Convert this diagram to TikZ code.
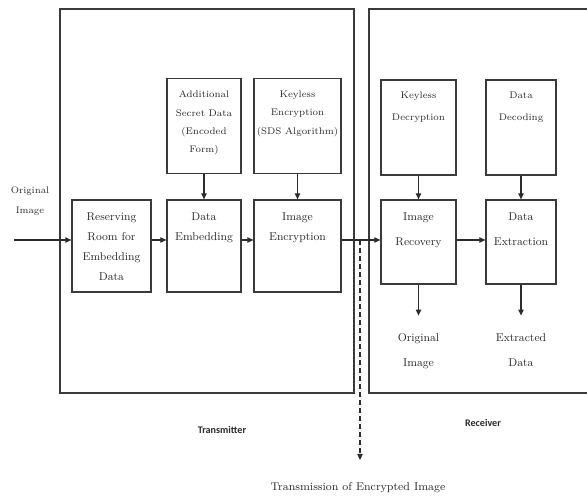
\documentclass[tikz,border=0pt]{standalone}
\usepackage{fontspec}
\newfontfamily\capfont{Carlito}
\usetikzlibrary{arrows.meta,positioning}
\definecolor{rdhInk}{HTML}{2B2B2B}
\definecolor{rdhFrame}{HTML}{3A3A3A}

\tikzset{
  blk/.style={draw=rdhFrame,line width=0.9pt,inner sep=0pt},
  lowblk/.style={blk,minimum height=69pt},
  rcvblk/.style={blk,minimum height=63pt},
  upblk/.style={blk,minimum height=71.25pt},
  txt/.style={align=center,inner sep=0pt,text=rdhInk},
  lowtxt/.style={txt,font=\fontsize{8.5}{15}\selectfont},
  rcvtxt/.style={txt,font=\fontsize{8.5}{19}\selectfont},
  uptxt/.style={txt,font=\fontsize{7.2}{13.8}\selectfont},
  uprtxt/.style={txt,font=\fontsize{7.2}{16.5}\selectfont},
  sidetxt/.style={txt,font=\capfont\bfseries\fontsize{7.6}{9}\selectfont},
  arr/.style={draw=rdhInk,line width=0.8pt,-{Triangle[length=4.5pt,width=4pt]}}
}

\begin{document}
\begin{tikzpicture}[x=0.75pt,y=0.75pt]
\useasboundingbox (0,0) rectangle (587,499);

% transmitter and receiver frames
\draw[rdhFrame,line width=1pt] (60,490) rectangle (354,106);
\draw[rdhFrame,line width=1pt] (587,490) -- (369,490) -- (369,106) -- (587,106);

% main chain
\node[lowblk,minimum width=59.25pt] (reserve) at (111.5,253) {};
\node[lowblk,minimum width=55.5pt]  (embed)   at (204,253)   {};
\node[lowblk,minimum width=65.25pt] (encrypt) at (297.5,253) {};
\node[rcvblk,minimum width=56.25pt] (recov)   at (418.5,257) {};
\node[rcvblk,minimum width=52.5pt]  (extract) at (521,257)   {};

\node[lowtxt,below=9.6pt of reserve.north] (reservetxt) {Reserving\\Room for\\Embedding\\Data};
\node[lowtxt,below=9.6pt of embed.north]   (embedtxt)   {Data\\Embedding};
\node[lowtxt,below=9.6pt of encrypt.north] (encrypttxt) {Image\\Encryption};
\node[rcvtxt,below=9.6pt of recov.north]   (recovtxt)   {Image\\Recovery};
\node[rcvtxt,below=9.6pt of extract.north] (extracttxt) {Data\\Extraction};

% side inputs
\node[upblk,minimum width=55.5pt,above=18.75pt of embed]    (secret) {};
\node[upblk,minimum width=65.25pt,above=18.75pt of encrypt] (keyenc) {};
\node[upblk,minimum width=56.25pt]  (keydec) at (418.5,371.5) {};
\node[upblk,minimum width=52.5pt]   (decode) at (521,371.5)   {};

\node[uptxt,below=9.3pt of secret.north]  (secrettxt) {Additional\\Secret Data\\(Encoded\\Form)};
\node[uptxt,below=9.3pt of keyenc.north]  (keyenctxt) {Keyless\\Encryption\\(SDS Algorithm)};
\node[uprtxt,below=9.3pt of keydec.north] (keydectxt) {Keyless\\Decryption};
\node[uprtxt,below=9.3pt of decode.north] (decodetxt) {Data\\Decoding};

\draw[arr] (secret) -- (embed);
\draw[arr] (keyenc) -- (encrypt);
\draw[arr] (keydec) -- (recov);
\draw[arr] (decode) -- (extract);

% flow
\coordinate (src) at (14,259);
\node[txt,font=\fontsize{7.1}{15.5}\selectfont] (srctxt) at (30,298) {Original\\Image};
\draw[arr] (src) -- (src -| reserve.west);
\draw[arr] (reserve.east |- src) -- (embed.west |- src);
\draw[arr] (embed.east |- src) -- (encrypt.west |- src);
\draw[arr] (encrypt.east |- src) -- (recov.west |- src);
\draw[arr] (recov.east |- src) -- (extract.west |- src);

% channel
\coordinate (tx) at (360,259);
\coordinate (txend) at (360,39);
\draw[arr,dashed,dash pattern=on 4pt off 2pt] (tx) -- (txend);
\node[txt,font=\fontsize{8.4}{10}\selectfont] (txtxt) at (358,11) {Transmission of Encrypted Image};

% outputs
\coordinate[below=23.25pt of recov.south]   (recovout);
\coordinate[below=23.25pt of extract.south] (extractout);
\draw[arr] (recov) -- (recovout);
\draw[arr] (extract) -- (extractout);
\node[rcvtxt,below=13pt of recovout]   (origout) {Original\\Image};
\node[rcvtxt,below=13pt of extractout] (dataout) {Extracted\\Data};

\node[sidetxt] (txlbl) at (222,69) {Transmitter};
\node[sidetxt] (rxlbl) at (483,76) {Receiver};
\end{tikzpicture}
\end{document}
